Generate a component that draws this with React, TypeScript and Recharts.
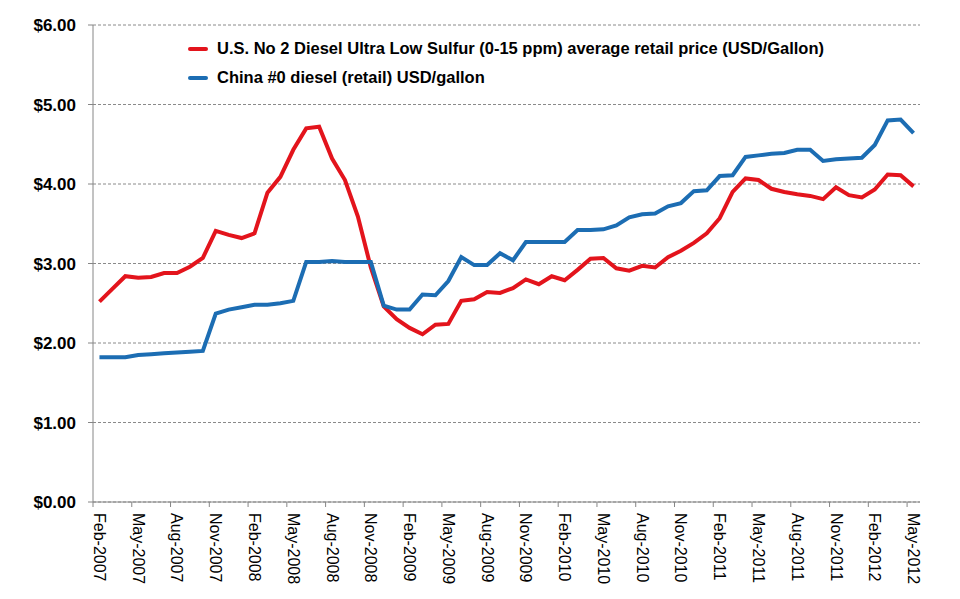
import React from 'react';
import { LineChart, Line, XAxis, YAxis, CartesianGrid } from 'recharts';

const months = [
  'Feb-2007', 'Mar-2007', 'Apr-2007', 'May-2007', 'Jun-2007', 'Jul-2007', 'Aug-2007', 'Sep-2007', 'Oct-2007', 'Nov-2007', 'Dec-2007',
  'Jan-2008', 'Feb-2008', 'Mar-2008', 'Apr-2008', 'May-2008', 'Jun-2008', 'Jul-2008', 'Aug-2008', 'Sep-2008', 'Oct-2008', 'Nov-2008', 'Dec-2008',
  'Jan-2009', 'Feb-2009', 'Mar-2009', 'Apr-2009', 'May-2009', 'Jun-2009', 'Jul-2009', 'Aug-2009', 'Sep-2009', 'Oct-2009', 'Nov-2009', 'Dec-2009',
  'Jan-2010', 'Feb-2010', 'Mar-2010', 'Apr-2010', 'May-2010', 'Jun-2010', 'Jul-2010', 'Aug-2010', 'Sep-2010', 'Oct-2010', 'Nov-2010', 'Dec-2010',
  'Jan-2011', 'Feb-2011', 'Mar-2011', 'Apr-2011', 'May-2011', 'Jun-2011', 'Jul-2011', 'Aug-2011', 'Sep-2011', 'Oct-2011', 'Nov-2011', 'Dec-2011',
  'Jan-2012', 'Feb-2012', 'Mar-2012', 'Apr-2012', 'May-2012',
];

const usDiesel = [
  2.52, 2.68, 2.84, 2.82, 2.83, 2.88, 2.88, 2.96, 3.07, 3.41, 3.36,
  3.32, 3.38, 3.89, 4.09, 4.43, 4.70, 4.72, 4.32, 4.05, 3.59, 2.95, 2.46,
  2.30, 2.19, 2.11, 2.23, 2.24, 2.53, 2.55, 2.64, 2.63, 2.69, 2.80, 2.74,
  2.84, 2.79, 2.92, 3.06, 3.07, 2.94, 2.91, 2.97, 2.95, 3.08, 3.16, 3.26,
  3.38, 3.57, 3.90, 4.07, 4.05, 3.94, 3.90, 3.87, 3.85, 3.81, 3.96, 3.86,
  3.83, 3.93, 4.12, 4.11, 3.97,
];

const chinaDiesel = [
  1.82, 1.82, 1.82, 1.85, 1.86, 1.87, 1.88, 1.89, 1.90, 2.37, 2.42,
  2.45, 2.48, 2.48, 2.50, 2.53, 3.02, 3.02, 3.03, 3.02, 3.02, 3.02, 2.47,
  2.42, 2.42, 2.61, 2.60, 2.78, 3.08, 2.98, 2.98, 3.13, 3.04, 3.27, 3.27,
  3.27, 3.27, 3.42, 3.42, 3.43, 3.48, 3.58, 3.62, 3.63, 3.72, 3.76, 3.91,
  3.92, 4.10, 4.11, 4.34, 4.36, 4.38, 4.39, 4.43, 4.43, 4.29, 4.31, 4.32,
  4.33, 4.49, 4.80, 4.81, 4.64,
];

const yTicks = [0, 1, 2, 3, 4, 5, 6];

const data = months.map((m, i) => ({ month: m, us: usDiesel[i], china: chinaDiesel[i] }));

const RED = '#e3141c';
const BLUE = '#1c6db3';
const AXIS = '#868686';
const FONT = "'Liberation Sans', Arial, sans-serif";
const HALF = 6.46; // half a category width, Excel puts ticks between categories

const MonthTick = (props: any) => {
  const { x, y, payload } = props;
  return (
    <g>
      <line x1={x - HALF} x2={x - HALF} y1={y} y2={y + 5} stroke={AXIS} />
      <text
        x={x}
        y={y + 11}
        transform={`rotate(90, ${x}, ${y + 11})`}
        textAnchor="start"
        dominantBaseline="central"
        fontFamily={FONT}
        fontSize={16}
        fill="#000"
      >
        {payload.value}
      </text>
    </g>
  );
};

const legendItems = [
  { label: 'U.S. No 2 Diesel Ultra Low Sulfur (0-15 ppm) average retail price (USD/Gallon)', color: RED },
  { label: 'China #0 diesel (retail) USD/gallon', color: BLUE },
];

// drawn over the chart so it doesn't push the plot area down
const ChartLegend = () => (
  <div style={{ position: 'absolute', left: 188, top: 34, fontFamily: FONT, fontWeight: 'bold', fontSize: 16.5, color: '#000' }}>
    {legendItems.map((it) => (
      <div key={it.label} style={{ display: 'flex', alignItems: 'center', height: 29, whiteSpace: 'nowrap' }}>
        <span style={{ display: 'inline-block', width: 20, height: 4, background: it.color, borderRadius: 2, marginRight: 9 }} />
        <span>{it.label}</span>
      </div>
    ))}
  </div>
);

export default function App() {
  return (
    <div style={{ position: 'absolute', left: 0, top: 0, width: 960, height: 599, background: '#fff' }}>
      <LineChart width={960} height={599} data={data} margin={{ top: 25, right: 40, bottom: 7, left: 0 }}>
        <CartesianGrid vertical={false} stroke="#8a8a8a" strokeDasharray="3 2" />
        <XAxis
          dataKey="month"
          interval={2}
          height={90}
          padding={{ left: HALF, right: HALF }}
          stroke={AXIS}
          tickLine={false}
          tickSize={0}
          tickMargin={0}
          tick={<MonthTick />}
        />
        <YAxis
          width={93}
          domain={[0, 6]}
          ticks={yTicks}
          stroke={AXIS}
          tickSize={5}
          tickMargin={12}
          tickFormatter={(v: number) => `$${v.toFixed(2)}`}
          tick={{ fill: '#000', fontSize: 17, fontWeight: 'bold', fontFamily: FONT }}
        />
        <Line dataKey="us" stroke={RED} strokeWidth={4} dot={false} isAnimationActive={false} />
        <Line dataKey="china" stroke={BLUE} strokeWidth={4} dot={false} isAnimationActive={false} />
      </LineChart>
      <ChartLegend />
    </div>
  );
}
